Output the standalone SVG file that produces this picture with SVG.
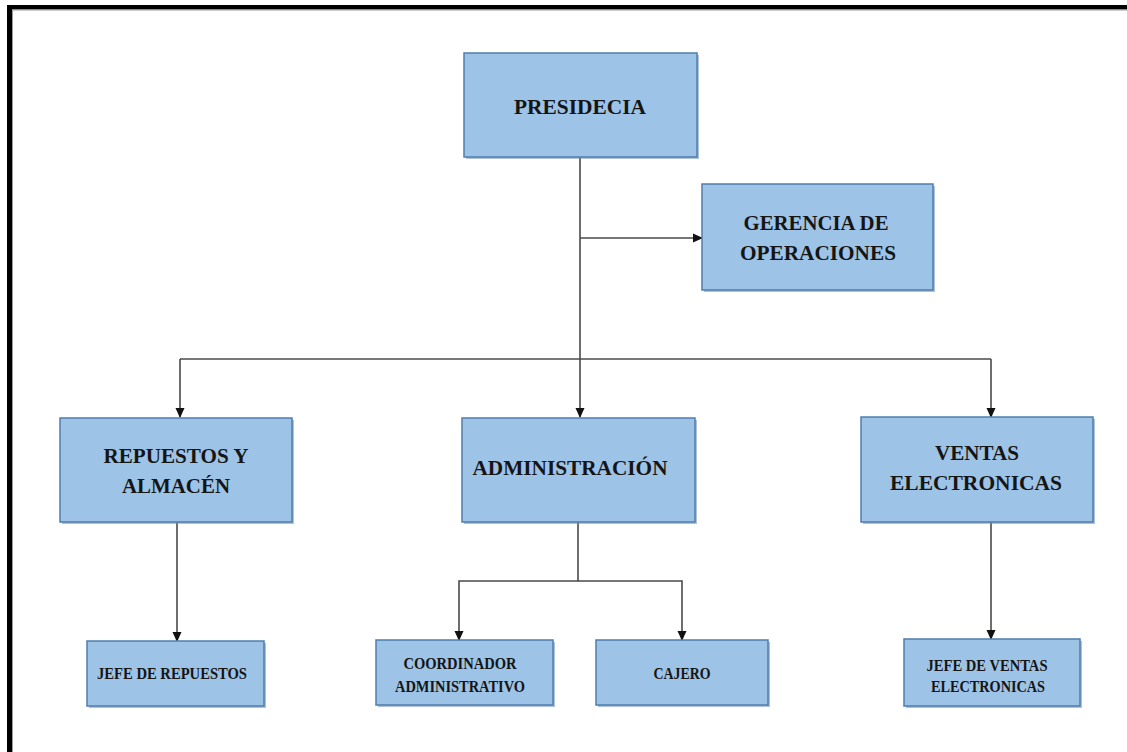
<svg xmlns="http://www.w3.org/2000/svg" width="1127" height="752" viewBox="0 0 1127 752">
  <style>
    .box { fill: #9DC3E6; stroke: #4F7DAE; stroke-width: 1.5; }
    .shadow { fill: #6E8FB3; opacity: 0.55; }
    .big { font-family: "Liberation Serif", "Times New Roman", serif; font-weight: bold; font-size: 22px; fill: #151515; text-anchor: middle; }
    .small { font-family: "Liberation Serif", "Times New Roman", serif; font-weight: bold; font-size: 16px; fill: #151515; text-anchor: middle; }
    .link { fill: none; stroke: #4a4a4a; stroke-width: 1.6; }
  </style>
  <defs>
    <marker id="arrow" viewBox="0 0 10 10" refX="9" refY="5" markerWidth="10" markerHeight="10" markerUnits="userSpaceOnUse" orient="auto">
      <path d="M0,0.5 L10,5 L0,9.5 Z" fill="#111"/>
    </marker>
  </defs>

  <rect x="0" y="0" width="1127" height="752" fill="#ffffff"/>

  <!-- frame -->
  <g id="frame">
    <rect x="7" y="5" width="1120" height="4.5" fill="#000"/>
    <rect x="7" y="5" width="5" height="747" fill="#000"/>
    <line x1="12" y1="10" x2="1127" y2="10" stroke="#9a9a9a" stroke-width="1"/>
    <line x1="12.5" y1="10" x2="12.5" y2="752" stroke="#9a9a9a" stroke-width="1"/>
  </g>

  <!-- connectors -->
  <g id="connectors">
    <line class="link" x1="580" y1="157" x2="580" y2="417" marker-end="url(#arrow)"/>
    <line class="link" x1="580" y1="238" x2="702" y2="238" marker-end="url(#arrow)"/>
    <line class="link" x1="180" y1="359" x2="991" y2="359"/>
    <line class="link" x1="180" y1="359" x2="180" y2="417" marker-end="url(#arrow)"/>
    <line class="link" x1="991" y1="359" x2="991" y2="417" marker-end="url(#arrow)"/>
    <line class="link" x1="177" y1="522" x2="177" y2="641" marker-end="url(#arrow)"/>
    <polyline class="link" points="578,522 578,581 459,581 459,640" marker-end="url(#arrow)"/>
    <polyline class="link" points="578,581 682,581 682,640" marker-end="url(#arrow)"/>
    <line class="link" x1="991" y1="522" x2="991" y2="639" marker-end="url(#arrow)"/>
  </g>

  <g id="presidecia">
    <rect class="shadow" x="466" y="55" width="233" height="104"/>
    <rect class="box" x="464" y="53" width="233" height="104"/>
    <text class="big" x="580" y="114" textLength="132" lengthAdjust="spacingAndGlyphs">PRESIDECIA</text>
  </g>

  <g id="gerencia">
    <rect class="shadow" x="704" y="186" width="231" height="106"/>
    <rect class="box" x="702" y="184" width="231" height="106"/>
    <text class="big" x="816" y="230" textLength="145" lengthAdjust="spacingAndGlyphs">GERENCIA DE</text>
    <text class="big" x="818" y="260" textLength="156" lengthAdjust="spacingAndGlyphs">OPERACIONES</text>
  </g>

  <g id="repuestos">
    <rect class="shadow" x="62" y="420" width="232" height="104"/>
    <rect class="box" x="60" y="418" width="232" height="104"/>
    <text class="big" x="176" y="463" textLength="145" lengthAdjust="spacingAndGlyphs">REPUESTOS Y</text>
    <text class="big" x="176" y="493" textLength="108" lengthAdjust="spacingAndGlyphs">ALMACÉN</text>
  </g>

  <g id="administracion">
    <rect class="shadow" x="464" y="420" width="233" height="104"/>
    <rect class="box" x="462" y="418" width="233" height="104"/>
    <text class="big" x="570" y="475" textLength="195" lengthAdjust="spacingAndGlyphs">ADMINISTRACIÓN</text>
  </g>

  <g id="ventas">
    <rect class="shadow" x="863" y="419" width="232" height="105"/>
    <rect class="box" x="861" y="417" width="232" height="105"/>
    <text class="big" x="977" y="460" textLength="84" lengthAdjust="spacingAndGlyphs">VENTAS</text>
    <text class="big" x="976" y="490" textLength="172" lengthAdjust="spacingAndGlyphs">ELECTRONICAS</text>
  </g>

  <g id="jefe-repuestos">
    <rect class="shadow" x="89" y="643" width="177" height="65"/>
    <rect class="box" x="87" y="641" width="177" height="65"/>
    <text class="small" x="172" y="679" textLength="150" lengthAdjust="spacingAndGlyphs">JEFE  DE  REPUESTOS</text>
  </g>

  <g id="coordinador">
    <rect class="shadow" x="378" y="642" width="177" height="65"/>
    <rect class="box" x="376" y="640" width="177" height="65"/>
    <text class="small" x="460" y="669" textLength="113" lengthAdjust="spacingAndGlyphs">COORDINADOR</text>
    <text class="small" x="460" y="692" textLength="130" lengthAdjust="spacingAndGlyphs">ADMINISTRATIVO</text>
  </g>

  <g id="cajero">
    <rect class="shadow" x="598" y="642" width="172" height="65"/>
    <rect class="box" x="596" y="640" width="172" height="65"/>
    <text class="small" x="682" y="679" textLength="57" lengthAdjust="spacingAndGlyphs">CAJERO</text>
  </g>

  <g id="jefe-ventas">
    <rect class="shadow" x="906" y="641" width="176" height="67"/>
    <rect class="box" x="904" y="639" width="176" height="67"/>
    <text class="small" x="987" y="671" textLength="121" lengthAdjust="spacingAndGlyphs">JEFE  DE  VENTAS</text>
    <text class="small" x="988" y="692" textLength="114" lengthAdjust="spacingAndGlyphs">ELECTRONICAS</text>
  </g>
</svg>
